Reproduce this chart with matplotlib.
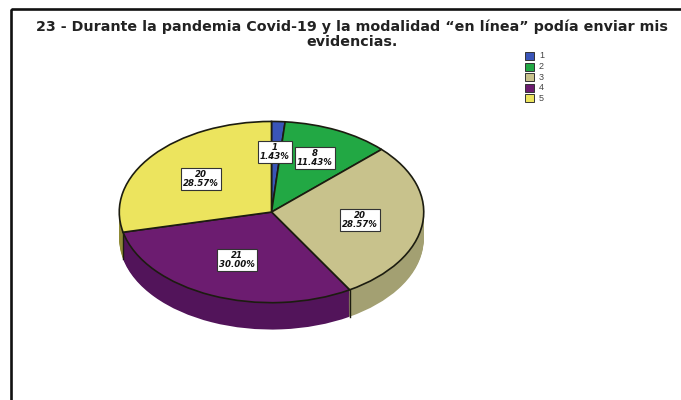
"""
Pie chart with a fake 3D look, item 23 of the survey
"""
import matplotlib
matplotlib.use("Agg")
import matplotlib.pyplot as plt
from matplotlib.patches import Rectangle
import numpy as np

W, H = 681, 400

# Data
categories = ['1', '2', '3', '4', '5']
counts = [1, 8, 20, 21, 20]
top_colors = ['#3a55b8', '#22a844', '#c8c28c', '#6c1c70', '#ece45e']
side_colors = ['#2a3d85', '#187a31', '#a3a072', '#52145a', '#8f8a35']
title_lines = ['23 - Durante la pandemia Covid-19 y la modalidad \u201cen l\u00ednea\u201d pod\u00eda enviar mis',
               'evidencias.']
label_px = [(275, 152), (315, 158), (360, 220), (237, 260), (201, 179)]

plt.rcParams['font.family'] = ['Liberation Sans', 'DejaVu Sans']

fig = plt.figure(figsize=(W / 100, H / 100), dpi=100)
bg = fig.add_axes([0, 0, 1, 1], zorder=5)
bg.set_xlim(0, W)
bg.set_ylim(H, 0)
bg.axis('off')

# Outer frame
bg.add_patch(Rectangle((11, 8.5), 700, 500, fill=False, edgecolor='#111111', linewidth=1.9))

bg.text(352, 31.5, title_lines[0], ha='center', va='baseline', fontsize=10.3, fontweight='bold',
        family='DejaVu Sans', color='#222222')
bg.text(352, 45.5, title_lines[1], ha='center', va='baseline', fontsize=10.3, fontweight='bold',
        family='DejaVu Sans', color='#222222')

# Pie: the ellipse is 306 x 182 px, the side adds 27 px below
rx, ry, depth = 153, 91, 27
cx, cy = 271.5, 212
ax = fig.add_axes([(cx - rx) / W, 1 - (cy + ry + depth) / H, 2 * rx / W, (2 * ry + depth) / H])
d = depth / ry

# Side, stacked copies of the pie moved down; slice 4 has to stay over 3 and 5
side_order = [1, 1, 1, 3, 1]
for off in np.linspace(d, 0.01, 28):
    wedges, _ = ax.pie(counts, colors=side_colors, startangle=90, counterclock=False,
                       center=(0, -off), wedgeprops={'linewidth': 0})
    for w, z in zip(wedges, side_order):
        w.set_zorder(z)
wedges, _ = ax.pie(counts, colors=top_colors, startangle=90, counterclock=False,
                   wedgeprops={'linewidth': 1.2, 'edgecolor': '#1c1c10'})
for w in wedges:
    w.set_zorder(4)

# Dark edges on the side where slices meet at the front
total = sum(counts)
for share in np.cumsum(counts) / total:
    angle = np.pi / 2 - 2 * np.pi * share
    if np.sin(angle) < 0:
        ax.plot([np.cos(angle)] * 2, [np.sin(angle), np.sin(angle) - d], color='#1c1c10',
                linewidth=1.0, zorder=3.5)

ax.set_aspect('auto')
ax.set_xlim(-1.005, 1.005)
ax.set_ylim(-1 - d - 0.005, 1.005)
ax.axis('off')

# Value labels
for n, (x, y) in zip(counts, label_px):
    bg.text(x, y, f'{n}\n{n / total * 100:.2f}%', ha='center', va='center', fontsize=6.2,
            fontweight='bold', style='italic', family='DejaVu Sans', color='#111111',
            linespacing=1.0, zorder=10,
            bbox={'boxstyle': 'square,pad=0.2', 'facecolor': 'white',
                  'edgecolor': '#333333', 'linewidth': 0.8})

# Legend
for i, (name, col) in enumerate(zip(categories, top_colors)):
    y = 56 + i * 10.6
    bg.add_patch(Rectangle((525, y - 4), 9, 8, facecolor=col, edgecolor='#333333', linewidth=0.7))
    bg.text(539, y, name, ha='left', va='center', fontsize=6.5, color='#444444')

fig.savefig('out.png', dpi=100)
plt.close(fig)
